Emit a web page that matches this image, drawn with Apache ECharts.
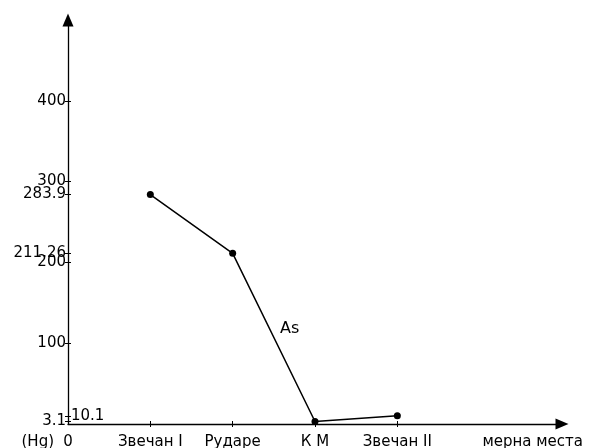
<!DOCTYPE html>
<html>
<head>
<meta charset="utf-8">
<script src="https://cdn.jsdelivr.net/npm/echarts@6/dist/echarts.min.js"></script>
<style>html,body{margin:0;padding:0;background:#fff}#c{width:590px;height:448px}</style>
</head>
<body>
<div id="c"></div>
<script>
const categories = ['Звечан I', 'Рударе', 'К М', 'Звечан II'];
const asValues = [283.9, 211.26, 3.1, 10.1];
const yTicks = [100, 200, 300, 400];
const yLabelsLeft = [100, 200, 300, 400, 283.9, 211.26, 3.1];
const yLabelsRight = [10.1];
const seriesName = 'As';
const xName = 'мерна места';
const yName = '(Hg)';

const FONT = 'DejaVu Sans';
const allYTicks = yTicks.concat([283.9, 211.26, 3.1, 10.1]);
const xPos = categories.map((c, i) => i + 1);

const chart = echarts.init(document.getElementById('c'), null, {renderer: 'canvas'});
chart.setOption({
  animation: false,
  backgroundColor: '#fff',
  textStyle: {fontFamily: FONT},
  grid: {left: 68, right: 28, top: 20, bottom: 24, containLabel: false, outerBoundsMode: 'none'},
  xAxis: [{
    type: 'value', min: 0, max: 6,
    axisLine: {show: true, lineStyle: {color: '#000', width: 1.3}, symbol: ['none', 'triangle'], symbolSize: [11, 13]},
    axisTick: {show: true, customValues: xPos, length: 3, lineStyle: {color: '#000'}},
    axisLabel: {customValues: [0].concat(xPos), margin: 11, color: '#000', fontSize: 15, fontFamily: FONT,
      formatter: v => v === 0 ? '0' : categories[Math.round(v) - 1]},
    splitLine: {show: false},
    name: xName, nameLocation: 'end', nameGap: 21,
    nameTextStyle: {color: '#000', fontSize: 15, fontFamily: FONT, align: 'right', verticalAlign: 'top', padding: [11, 0, 0, 0]}
  }, {
    type: 'value', min: 0, max: 6, position: 'bottom',
    axisLine: {show: false},
    axisTick: {show: true, inside: true, customValues: xPos, length: 3, lineStyle: {color: '#000'}},
    axisLabel: {show: false},
    splitLine: {show: false}
  }],
  yAxis: [{
    type: 'value', min: 0, max: 500,
    axisLine: {show: true, lineStyle: {color: '#000', width: 1.3}, symbol: ['none', 'triangle'], symbolSize: [11, 13]},
    axisTick: {show: true, customValues: allYTicks, length: 3, lineStyle: {color: '#000'}},
    axisLabel: {customValues: yLabelsLeft, margin: 2, color: '#000', fontSize: 15, fontFamily: FONT,
      formatter: v => String(v)},
    splitLine: {show: false},
    name: yName, nameLocation: 'start', nameGap: 18,
    nameTextStyle: {color: '#000', fontSize: 15, fontFamily: FONT, align: 'right', verticalAlign: 'middle', padding: [0, 14, 0, 0]}
  }, {
    type: 'value', min: 0, max: 500, position: 'left', offset: 0,
    axisLine: {show: false},
    axisTick: {show: true, inside: true, customValues: allYTicks, length: 3, lineStyle: {color: '#000'}},
    axisLabel: {show: true, inside: true, customValues: yLabelsRight, margin: 3, color: '#000', fontSize: 15, fontFamily: FONT,
      formatter: v => String(v)},
    splitLine: {show: false}
  }],
  series: [{
    name: seriesName,
    type: 'line',
    data: xPos.map((x, i) => [x, asValues[i]]),
    symbol: 'circle', symbolSize: 7,
    itemStyle: {color: '#000'},
    lineStyle: {color: '#000', width: 1.5}
  }],
  graphic: [{
    type: 'text', left: 280, top: 321,
    style: {text: seriesName, fill: '#000', font: '16px "DejaVu Sans"'}
  }]
});
</script>
</body>
</html>
